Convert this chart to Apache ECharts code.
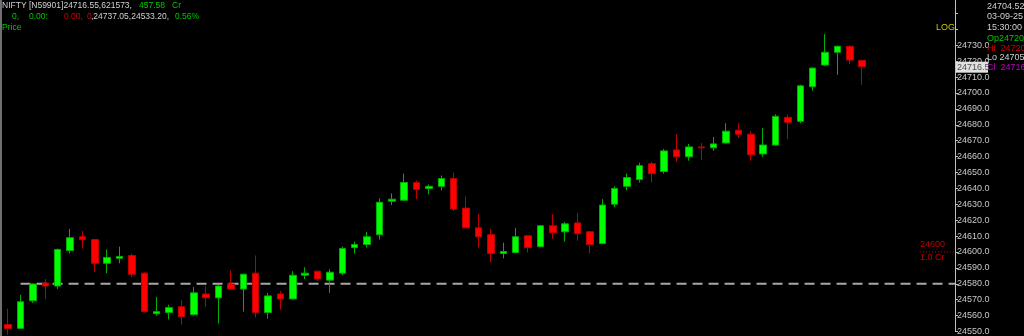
<!DOCTYPE html>
<html>
<head>
<meta charset="utf-8">
<script src="https://cdn.jsdelivr.net/npm/echarts@6/dist/echarts.min.js"></script>
<style>
html,body{margin:0;padding:0;background:#000;}
#c{width:1024px;height:336px;}
</style>
</head>
<body>
<div id="c"></div>
<script>
// ---- data ----
var times = ['09:40','09:45','09:50','09:55','10:00','10:05','10:10','10:15','10:20','10:25',
'10:30','10:35','10:40','10:45','10:50','10:55','11:00','11:05','11:10','11:15',
'11:20','11:25','11:30','11:35','11:40','11:45','11:50','11:55','12:00','12:05',
'12:10','12:15','12:20','12:25','12:30','12:35','12:40','12:45','12:50','12:55',
'13:00','13:05','13:10','13:15','13:20','13:25','13:30','13:35','13:40','13:45',
'13:50','13:55','14:00','14:05','14:10','14:15','14:20','14:25','14:30','14:35',
'14:40','14:45','14:50','14:55','15:00','15:05','15:10','15:15','15:20','15:25'];
var opens = [24554.4,24552.0,24569.3,24580.5,24578.6,24600.9,24609.6,24607.8,24592.9,24596.0,
24597.8,24586.7,24561.2,24561.9,24565.6,24560.6,24573.6,24571.2,24579.9,24576.7,
24586.7,24561.9,24573.6,24570.5,24585.4,24587.9,24582.3,24586.7,24602.8,24604.7,
24610.9,24632.0,24632.6,24643.7,24640.0,24641.3,24646.2,24627.6,24615.2,24610.9,
24599.1,24599.7,24610.2,24603.4,24616.5,24612.7,24618.3,24612.7,24605.3,24630.1,
24641.3,24645.6,24655.5,24650.6,24664.2,24659.9,24666.1,24665.5,24668.6,24676.6,
24674.1,24661.7,24667.3,24684.7,24682.2,24703.9,24717.6,24725.6,24729.4,24720.5];
var closes = [24551.9,24568.7,24579.9,24578.6,24601.6,24609.0,24607.8,24592.9,24596.6,24597.2,
24586.0,24562.5,24562.5,24565.0,24559.4,24574.3,24571.2,24578.6,24576.7,24586.0,
24561.9,24572.4,24570.5,24585.4,24586.7,24583.0,24587.3,24602.2,24604.7,24609.6,
24631.3,24633.2,24643.7,24639.4,24641.3,24646.2,24627.0,24615.2,24609.6,24599.1,
24600.3,24609.6,24602.8,24616.5,24612.1,24617.7,24611.5,24604.7,24629.5,24640.0,
24646.8,24654.3,24649.3,24663.6,24659.9,24666.1,24665.5,24668.0,24676.0,24674.1,
24661.1,24667.3,24685.3,24681.6,24704.5,24715.7,24725.6,24729.4,24720.7,24716.55];
var lows = [24548.0,24551.5,24568.0,24570.5,24576.7,24599.0,24602.2,24587.3,24586.7,24592.9,
24584.2,24562.0,24560.0,24557.5,24554.4,24560.0,24565.6,24555.0,24576.0,24562.5,
24558.8,24558.1,24563.7,24570.0,24583.0,24581.7,24574.3,24585.4,24599.0,24602.8,
24607.8,24629.5,24632.0,24633.2,24636.3,24638.8,24625.8,24614.8,24602.8,24593.5,
24596.0,24599.2,24599.7,24603.0,24608.4,24606.5,24607.1,24599.1,24604.9,24628.2,
24638.8,24643.7,24643.7,24649.3,24656.8,24657.4,24658.0,24663.6,24668.2,24671.7,
24657.4,24659.9,24667.0,24671.0,24681.0,24701.4,24717.0,24711.4,24718.2,24705.2];
var highs = [24564.3,24573.0,24580.3,24583.0,24602.2,24614.6,24613.3,24608.2,24601.6,24603.4,
24599.0,24587.3,24571.8,24566.8,24569.9,24578.0,24578.6,24579.2,24588.5,24586.5,
24597.8,24574.3,24575.5,24587.9,24590.4,24588.2,24589.2,24603.4,24606.5,24612.7,
24633.8,24636.9,24649.3,24645.0,24642.5,24648.1,24650.0,24635.0,24623.9,24614.6,
24605.9,24615.2,24610.6,24617.0,24623.9,24618.9,24624.5,24613.0,24633.2,24641.3,
24649.3,24656.2,24656.8,24664.8,24674.1,24668.0,24668.6,24672.3,24681.0,24681.0,
24676.0,24677.9,24686.6,24686.6,24705.2,24716.0,24737.05,24729.8,24729.8,24720.9];
var emptySlots = ['e1','e2','e3','e4','e5','e6','e7'];
var yTicks = {min: 24550, max: 24758.5, step: 10};
var refLevel = 24580;
var alertLevel = 24600;
var lastPrice = 24716.55;

// ---- build ----
var cats = times.concat(emptySlots);
var ohlc = opens.map(function (o, i) { return [o, closes[i], lows[i], highs[i]]; });

var FONT = 'Liberation Sans';
var chart = echarts.init(document.getElementById('c'), null, {renderer: 'canvas'});
chart.setOption({
  backgroundColor: '#000000',
  animation: false,
  grid: {left: 2, right: 69, top: 0, bottom: 0},
  xAxis: {type: 'category', data: cats, show: false, boundaryGap: true},
  yAxis: {
    type: 'value', position: 'right', min: yTicks.min, max: yTicks.max, interval: yTicks.step,
    axisLine: {show: true, lineStyle: {color: '#c0c0c0', width: 1}},
    axisTick: {show: true, length: 3, lineStyle: {color: '#c0c0c0'}},
    axisLabel: {
      color: '#c8c8c8', fontSize: 9, fontFamily: FONT, margin: 2, showMaxLabel: false,
      formatter: function (v) { return v > 24735 ? '' : v.toFixed(1); }
    },
    splitLine: {show: false}
  },
  series: [{
    type: 'candlestick',
    z: 5,
    data: ohlc,
    barWidth: 7,
    itemStyle: {
      color: '#00ff00', color0: '#ff0000',
      borderColor: '#00b000', borderColor0: '#c00000', borderWidth: 1
    }
  }]
});

// overlays positioned through the axis scales
var yRef = chart.convertToPixel({yAxisIndex: 0}, refLevel);
var yAlert = chart.convertToPixel({yAxisIndex: 0}, alertLevel);
var yLast = chart.convertToPixel({yAxisIndex: 0}, lastPrice);
var xStart = chart.convertToPixel({xAxisIndex: 0}, 1);
var axisX = chart.getWidth() - 69;
function txt(x, y, s, c, fs) {
  return {type: 'text', x: x, y: y, silent: true, z: 10,
    style: {text: s, fill: c, font: (fs || 9) + 'px "' + FONT + '"', verticalAlign: 'middle'}};
}
var gray = '#d0d0d0', green = '#00c800', red = '#d00000';
var H = 8.5;
chart.setOption({
  graphic: [
    {type: 'rect', shape: {x: 0, y: 0, width: 2, height: 336}, style: {fill: '#707070'}, silent: true},
    {type: 'line', silent: true, z: -1, shape: {x1: xStart, y1: yRef, x2: axisX, y2: yRef},
     style: {stroke: '#a8a8a8', lineWidth: 2, lineDash: [10, 6]}},
    txt(2, 6, 'NIFTY [N59901]24716.55,621573,', gray, H),
    txt(139, 6, '457.58', green, H),
    txt(172, 6, 'Cr', green, H),
    txt(12, 17, '0,', green, H),
    txt(29, 17, '0.00:', green, H),
    txt(64, 17, '0.00,', red, H),
    txt(87, 17, '0', red, H),
    txt(91, 17, ',24737.05,24533.20,', gray, H),
    txt(175, 17, '0.56%', green, H),
    txt(2, 28, 'Price', green, H),
    txt(936, 28, 'LOG', '#c8c800'),
    txt(987, 7, '24704.52', gray),
    txt(987, 17, '03-09-25', gray),
    txt(987, 28, '15:30:00', gray),
    txt(987, 39, 'Op24720.', green),
    txt(987, 49, 'Hi  24720.', red),
    txt(987, 58, 'Lo 24705.', gray),
    txt(987, 68, 'Cl  24716.', '#c000c0'),
    {type: 'rect', silent: true, z: 10, shape: {x: axisX + 1, y: yLast - 5, width: 32, height: 11},
     style: {fill: '#e0e0e0'}},
    txt(axisX + 2, yLast + 0.5, '24716.5', '#505050'),
    {type: 'line', silent: true, shape: {x1: 920, y1: yAlert, x2: axisX, y2: yAlert},
     style: {stroke: '#c00000', lineWidth: 1, lineDash: [1, 2]}},
    txt(920, yAlert - 7, '24600', '#c00000'),
    txt(920, yAlert + 6, '1.0 Cr', '#c00000')
  ]
});
</script>
</body>
</html>
